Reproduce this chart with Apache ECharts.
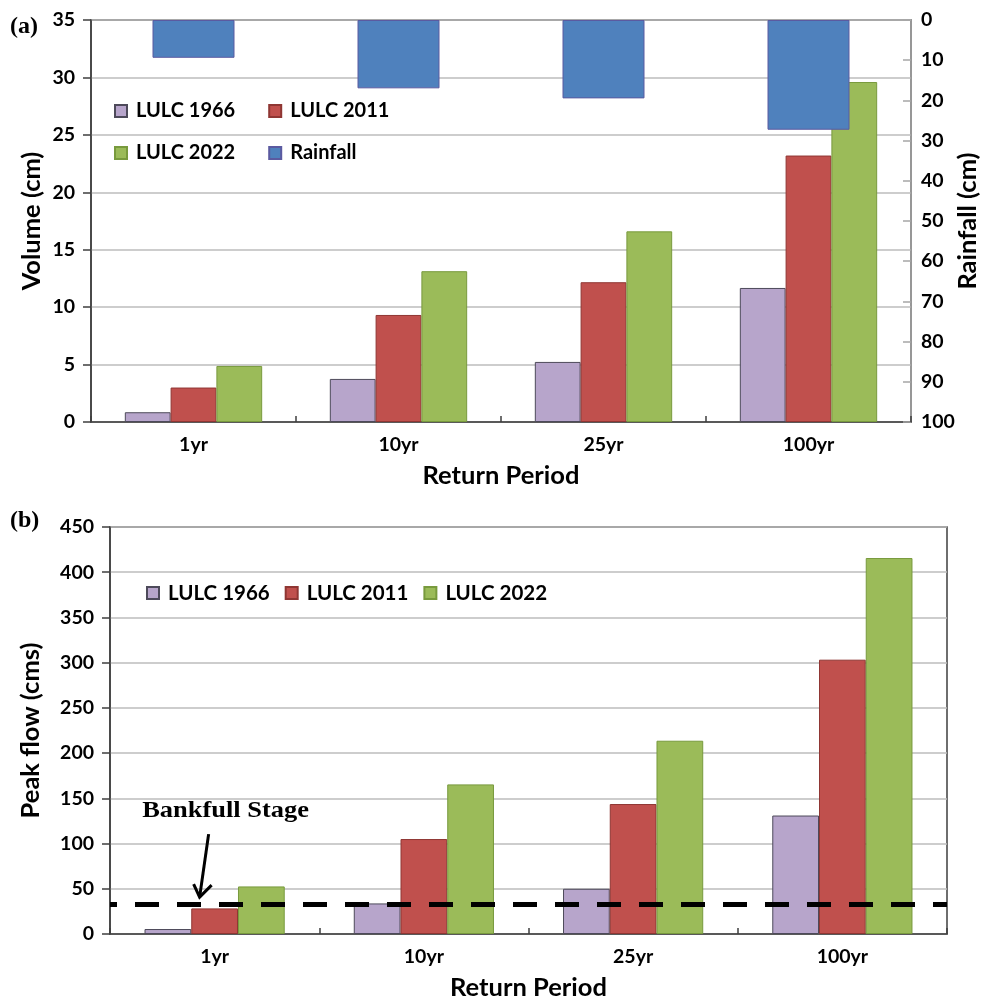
<!DOCTYPE html>
<html>
<head>
<meta charset="utf-8">
<script src="https://cdn.jsdelivr.net/npm/echarts@6/dist/echarts.min.js"></script>
<style>
  html, body { margin: 0; padding: 0; background: #ffffff; }
  #chart { width: 985px; height: 1000px; }
</style>
</head>
<body>
<div id="chart"></div>
<script>
// ---------------- data ----------------
const categories = ['1yr', '10yr', '25yr', '100yr'];
// (a) runoff volume (cm)
const volume1966 = [0.85, 3.75, 5.23, 11.67];
const volume2011 = [3.0, 9.32, 12.17, 23.2];
const volume2022 = [4.88, 13.13, 16.6, 29.6];
// (a) rainfall (cm), plotted on the inverted right axis
const rainfall = [9.4, 17.0, 19.5, 27.3];
// (b) peak flow (cms)
const peak1966 = [5.5, 33.8, 50, 131];
const peak2011 = [28.3, 105, 143.7, 303.3];
const peak2022 = [52.6, 165.4, 213.7, 415.7];
const bankfull = 33;
// axis ranges
const volumeAxis = { min: 0, max: 35, interval: 5 };
const rainAxis = { min: 0, max: 100, interval: 10 };
const peakAxis = { min: 0, max: 450, interval: 50 };

// ---------------- style ----------------
const FONT = 'Lato';
const C1966 = '#B7A5CB', B1966 = '#4d4a5a';
const C2011 = '#C0504D', B2011 = '#8f3633';
const C2022 = '#9BBB59', B2022 = '#789a3d';
const CRAIN = '#4F81BD', BRAIN = '#5b5aa0';
const AXIS = '#3f3f3f';
const GRID = '#bdbdbd';
const TICK_FS = 19.5;
const NAME_FS = 25.5;

const chart = echarts.init(document.getElementById('chart'), null, { renderer: 'canvas' });

function valueAxis(gridIndex, range, name, nameGap, extra) {
  return Object.assign({
    type: 'value', gridIndex: gridIndex,
    min: range.min, max: range.max, interval: range.interval,
    name: name, nameLocation: 'middle', nameGap: nameGap, nameRotate: 90, nameMoveOverlap: false,
    nameTextStyle: { fontFamily: FONT, fontWeight: 'bold', fontSize: NAME_FS, color: '#000' },
    axisLine: { show: true, lineStyle: { color: AXIS, width: 1.5 } },
    axisTick: { show: true, inside: false, length: 8, lineStyle: { color: AXIS, width: 1.5 } },
    axisLabel: { fontFamily: FONT, fontWeight: 'bold', fontSize: TICK_FS, color: '#000', margin: 16 },
    splitLine: { show: true, lineStyle: { color: GRID, width: 1.5 } }
  }, extra || {});
}

function catAxis(gridIndex, extra) {
  return Object.assign({
    type: 'category', gridIndex: gridIndex, data: categories,
    name: 'Return Period', nameLocation: 'middle', nameGap: 41, nameMoveOverlap: false,
    nameTextStyle: { fontFamily: FONT, fontWeight: 'bold', fontSize: NAME_FS, color: '#000' },
    axisLine: { show: true, lineStyle: { color: AXIS, width: 1.5 } },
    axisTick: { show: true, inside: true, length: 6, lineStyle: { color: AXIS, width: 1.5 } },
    axisLabel: { fontFamily: FONT, fontWeight: 'bold', fontSize: TICK_FS, color: '#000', margin: 13 },
    splitLine: { show: false }
  }, extra || {});
}

function barSeries(name, data, color, border, xi, yi, extra) {
  return Object.assign({
    type: 'bar', name: name, data: data,
    xAxisIndex: xi, yAxisIndex: yi,
    barGap: '0%', barCategoryGap: '33%',
    itemStyle: { color: color, borderColor: border, borderWidth: 1 },
    emphasis: { disabled: true }
  }, extra || {});
}

const legendText = (size) => ({ fontFamily: FONT, fontWeight: 'bold', fontSize: size, color: '#000', padding: [0, 0, 0, 4], lineHeight: 22 });

const option = {
  animation: false,
  backgroundColor: '#ffffff',
  textStyle: { fontFamily: FONT },
  title: [
    { text: '(a)', left: 10, top: 15, padding: 0,
      textStyle: { fontFamily: 'Liberation Serif', fontWeight: 'bold', fontSize: 24, color: '#000' } },
    { text: '(b)', left: 10, top: 509, padding: 0,
      textStyle: { fontFamily: 'Liberation Serif', fontWeight: 'bold', fontSize: 24, color: '#000' } }
  ],
  grid: [
    { left: 91, right: 74, top: 20, height: 402, show: true, borderColor: AXIS, borderWidth: 1.5,
      backgroundColor: 'transparent', containLabel: false, outerBoundsMode: 'none' },
    { left: 110, right: 38, top: 527, height: 407, show: true, borderColor: AXIS, borderWidth: 1.5,
      backgroundColor: 'transparent', containLabel: false, outerBoundsMode: 'none' }
  ],
  legend: [
    { data: ['LULC 1966', 'LULC 2011'], left: 114, top: 100, orient: 'horizontal',
      itemWidth: 12, itemHeight: 12, itemGap: 33, icon: 'rect', selectedMode: false, padding: 0,
      textStyle: legendText(20) },
    { data: ['LULC 2022', 'Rainfall'], left: 114, top: 142, orient: 'horizontal',
      itemWidth: 12, itemHeight: 12, itemGap: 33, icon: 'rect', selectedMode: false, padding: 0,
      textStyle: legendText(20) },
    { data: ['LULC 1966', 'LULC 2011', 'LULC 2022'], left: 146, top: 582, orient: 'horizontal',
      itemWidth: 12, itemHeight: 12, itemGap: 15, icon: 'rect', selectedMode: false, padding: 0,
      textStyle: legendText(20.5) }
  ],
  xAxis: [
    catAxis(0),
    catAxis(0, { show: false, name: '' }),
    catAxis(1)
  ],
  yAxis: [
    valueAxis(0, volumeAxis, 'Volume (cm)', 46),
    valueAxis(0, rainAxis, 'Rainfall (cm)', 44, {
      position: 'right', inverse: true,
      axisLine: { show: true, lineStyle: { color: '#a6a6a6', width: 1.5 } },
      axisTick: { show: true, inside: true, length: 8, lineStyle: { color: '#a6a6a6', width: 1.5 } },
      axisLabel: { fontFamily: FONT, fontWeight: 'bold', fontSize: TICK_FS, color: '#000', margin: 10 },
      splitLine: { show: false }
    }),
    valueAxis(1, peakAxis, 'Peak flow (cms)', 66)
  ],
  series: [
    barSeries('LULC 1966', volume1966, C1966, B1966, 0, 0),
    barSeries('LULC 2011', volume2011, C2011, B2011, 0, 0),
    barSeries('LULC 2022', volume2022, C2022, B2022, 0, 0),
    barSeries('Rainfall', rainfall, CRAIN, BRAIN, 1, 1, { barWidth: '40%', barCategoryGap: null, z: 3 }),
    barSeries('LULC 1966', peak1966, C1966, B1966, 2, 2),
    barSeries('LULC 2011', peak2011, C2011, B2011, 2, 2),
    barSeries('LULC 2022', peak2022, C2022, B2022, 2, 2, {
      markLine: {
        silent: true, symbol: ['none', 'none'], animation: false,
        label: { show: false },
        lineStyle: { color: '#000', width: 5, type: [24, 18], dashOffset: 17 },
        data: [{ yAxis: bankfull }]
      }
    })
  ]
};

chart.setOption(option);

// Bankfull annotation (text + arrow) anchored to the bankfull value in the 1yr category
const anchor = chart.convertToPixel({ gridIndex: 1 }, [0, bankfull]);
const cx = anchor[0], cy = anchor[1];
const tip = [cx - 15, cy - 7];
const tail = [cx - 6, cy - 70];
chart.setOption({
  graphic: [
    { type: 'polyline', silent: true, z: 100,
      shape: { points: [tail, tip] },
      style: { stroke: '#000', lineWidth: 3, fill: null } },
    { type: 'polyline', silent: true, z: 100,
      shape: { points: [[tip[0] - 6, tip[1] - 13], tip, [tip[0] + 12, tip[1] - 12]] },
      style: { stroke: '#000', lineWidth: 3, fill: null, lineJoin: 'miter' } },
    { type: 'text', silent: true, z: 100,
      x: cx + 11, y: cy - 93, scaleX: 1.15, scaleY: 1,
      style: { text: 'Bankfull Stage', x: 0, y: 0, textAlign: 'center', textVerticalAlign: 'middle',
        font: 'bold 23px "Liberation Serif"', fill: '#000' } }
  ]
});
</script>
</body>
</html>
